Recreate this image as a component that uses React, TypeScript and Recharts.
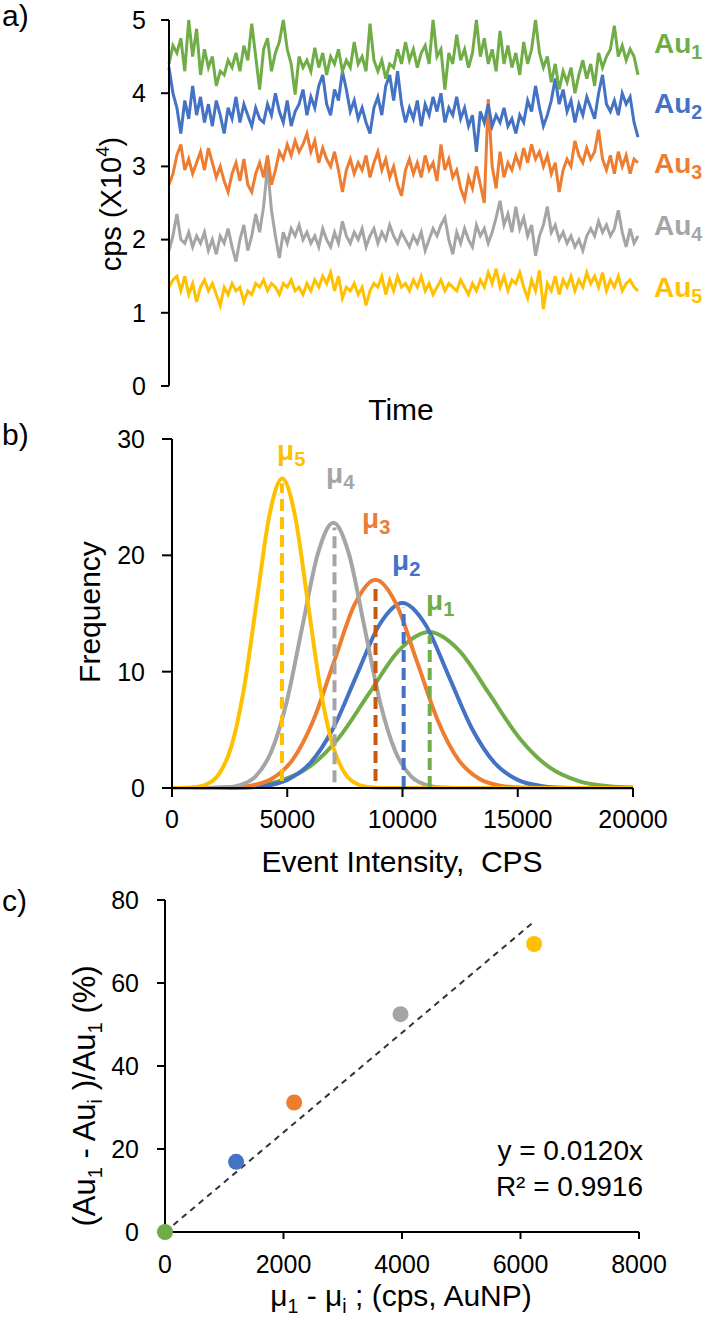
import React from "react";
import { LineChart, Line, XAxis, YAxis, ComposedChart, Scatter, Cell } from "recharts";

const FONT = "'Liberation Sans', Arial, Helvetica, sans-serif";
const COLORS = ["#70AD47", "#4472C4", "#ED7D31", "#A5A5A5", "#FFC000"];
const MEAN_COLORS = ["#70AD47", "#4472C4", "#C55A11", "#A5A5A5", "#FFC000"];

// a) signal traces, cps (x10^4), one value per time step
const au1Trace = [
  4.4, 4.65, 4.55, 4.75, 4.3, 5.0, 4.5, 4.88, 4.25, 4.6,
  4.35, 4.5, 4.1, 4.3, 4.25, 4.45, 4.35, 4.55, 4.3, 4.65,
  4.45, 4.95, 4.5, 4.05, 4.6, 4.75, 4.3, 4.55, 4.7, 5.0,
  4.6, 4.4, 3.98, 4.5, 4.35, 4.45, 4.3, 4.62, 4.35, 4.55,
  4.25, 4.5, 4.4, 4.6, 4.3, 4.45, 4.35, 4.7, 4.4, 4.5,
  4.3, 4.95, 4.45, 4.3, 4.45, 4.2, 4.4, 4.35, 4.6, 4.4,
  4.7, 4.45, 4.6, 4.35, 4.55, 4.65, 4.4, 5.0, 4.5, 4.6,
  4.05, 4.55, 4.4, 4.8, 4.45, 4.6, 4.35, 4.55, 5.0, 4.5,
  4.75, 4.4, 4.6, 4.3, 4.85, 4.4, 4.65, 4.35, 4.55, 4.25,
  4.7, 4.4, 4.6, 5.0, 4.55, 4.35, 4.5, 4.15, 4.4, 4.05,
  4.3, 4.15, 4.35, 4.0, 4.25, 4.45, 4.2, 4.4, 4.1, 4.55,
  4.35, 4.5, 4.6, 4.92, 4.5, 4.65, 4.45, 4.6, 4.5, 4.25,
];
const au2Trace = [
  4.35, 4.0, 3.8, 3.45, 3.9, 3.65, 4.1, 3.7, 3.95, 3.6,
  3.85, 3.55, 3.9, 3.7, 3.45, 3.8, 3.65, 3.95, 3.6, 3.85,
  3.7, 3.55, 3.8, 3.65, 3.6, 3.85, 3.7, 4.0, 3.75, 3.6,
  3.9, 3.55, 3.75, 3.85, 4.05, 3.7, 3.95, 3.8, 4.1, 4.25,
  3.85, 3.7, 4.05, 3.9, 4.3, 4.05, 3.75, 3.9, 3.65, 3.8,
  3.6, 3.45, 3.8, 3.95, 3.7, 4.1, 4.25, 3.9, 4.3, 3.85,
  3.6, 3.8, 3.65, 3.9, 3.55, 3.85, 3.7, 3.95, 3.75, 4.0,
  3.6, 3.8, 3.7, 3.95, 3.65, 3.8, 3.55, 3.7, 3.2, 3.75,
  3.6, 3.85, 3.55, 3.7, 3.6, 3.8, 3.55, 3.65, 3.45, 3.7,
  3.6, 3.9, 3.75, 4.1, 3.8, 3.55, 3.7, 3.9, 4.2, 3.85,
  4.05, 3.75, 3.9, 3.6, 3.85, 3.7, 3.95, 3.8, 3.65, 4.0,
  4.25, 3.85, 3.75, 3.9, 3.7, 4.0, 3.85, 3.95, 3.6, 3.4,
];
const au3Trace = [
  2.75, 2.9, 3.15, 3.3, 2.95, 3.1, 2.9, 3.05, 3.2, 2.95,
  3.25, 3.05, 2.85, 3.0, 2.8, 2.65, 2.9, 3.05, 2.8, 3.1,
  2.75, 2.65, 2.9, 3.05, 2.85, 3.15, 2.75, 2.95, 3.2, 3.1,
  3.3, 3.15, 3.35, 3.2, 3.3, 3.45, 3.2, 3.35, 3.05, 3.25,
  3.1, 3.0, 3.2, 2.95, 2.65, 2.95, 3.1, 2.9, 3.05, 2.95,
  3.15, 2.85, 3.05, 3.2, 2.95, 3.1, 2.85, 3.0, 2.75, 2.6,
  2.95, 3.1, 2.9, 3.05, 2.85, 3.15, 2.95, 3.05, 2.8, 3.3,
  2.95, 3.1, 2.85, 2.95, 2.7, 2.55, 2.85, 2.7, 3.0, 2.75,
  2.5, 3.92, 3.0, 2.7, 3.2, 2.85, 3.05, 2.95, 3.15, 3.0,
  3.25, 3.05, 3.3, 3.1, 3.2, 3.0, 3.15, 2.9, 3.05, 2.65,
  2.95, 3.1, 3.0, 3.35, 3.15, 3.05, 3.25, 3.1, 3.2, 3.5,
  3.1, 2.95, 3.15, 2.9, 3.2, 3.0, 3.15, 2.9, 3.1, 3.05,
];
const au4Trace = [
  1.85, 2.05, 2.35, 2.0, 1.95, 2.1, 1.9, 2.05, 1.95, 2.1,
  1.85, 2.0, 1.8, 2.05, 1.95, 2.15, 1.9, 1.7, 2.0, 2.2,
  1.85, 2.05, 2.35, 2.1, 2.45, 3.0, 2.4, 2.05, 1.75, 2.1,
  1.95, 2.15, 2.05, 2.2, 2.0, 2.1, 1.95, 2.05, 1.9, 2.15,
  2.0, 1.9, 2.1, 1.95, 2.25, 2.05, 1.95, 2.1, 2.0, 2.15,
  1.9, 2.05, 2.15, 1.95, 2.1, 2.0, 2.2, 2.05, 1.95, 2.1,
  2.0, 1.9, 2.05, 1.95, 2.1, 1.85, 2.0, 2.15, 2.05, 2.2,
  2.3, 2.0, 1.8, 2.1, 1.95, 2.15, 2.0, 1.9, 2.2, 2.05,
  2.15, 1.95, 2.1, 2.3, 2.53, 2.2, 2.35, 2.1, 2.45, 2.15,
  2.3, 2.05, 2.2, 1.78, 2.05, 2.2, 2.45, 2.1, 2.2, 2.0,
  2.1, 1.95, 2.05, 1.9, 2.0, 1.85, 2.05, 2.15, 2.05, 2.25,
  2.1, 2.2, 2.05, 2.15, 2.4, 2.1, 1.9, 2.15, 1.95, 2.05,
];
const au5Trace = [
  1.35, 1.45, 1.5, 1.3, 1.5, 1.25, 1.4, 1.15, 1.35, 1.45,
  1.3, 1.4, 1.25, 1.1, 1.35, 1.25, 1.4, 1.3, 1.35, 1.15,
  1.3, 1.25, 1.4, 1.35, 1.45, 1.3, 1.4, 1.35, 1.25, 1.4,
  1.35, 1.45, 1.3, 1.35, 1.25, 1.4, 1.3, 1.45, 1.35, 1.5,
  1.4, 1.55, 1.3, 1.5, 1.2, 1.35, 1.3, 1.4, 1.25, 1.35,
  1.1, 1.3, 1.4, 1.35, 1.5, 1.25, 1.45, 1.3, 1.5, 1.35,
  1.4, 1.3, 1.45, 1.35, 1.5, 1.3, 1.4, 1.25, 1.35, 1.45,
  1.3, 1.4, 1.35, 1.3, 1.45, 1.35, 1.25, 1.4, 1.3, 1.45,
  1.35, 1.55, 1.4, 1.6, 1.35, 1.5, 1.3, 1.45, 1.4, 1.55,
  1.35, 1.2, 1.45, 1.3, 1.58, 1.05, 1.4, 1.3, 1.5, 1.25,
  1.45, 1.35, 1.5, 1.3, 1.45, 1.35, 1.55, 1.4, 1.5, 1.35,
  1.55, 1.3, 1.45, 1.35, 1.5, 1.3, 1.4, 1.45, 1.35, 1.3,
];
const traceTicksY = [0, 1, 2, 3, 4, 5];
const traceLabels = ["1", "2", "3", "4", "5"];

// b) fitted event distributions, [intensity cps, frequency]
const au1Dist = [[0, 0], [750, 0], [2050, 0.03], [3350, 0.15], [4650, 0.59], [5950, 1.81], [7250, 4.35], [8550, 8.13], [9850, 11.83], [11150, 13.4], [12450, 11.83], [13750, 8.13], [15050, 4.35], [16350, 1.81], [17650, 0.59], [18950, 0.15], [20000, 0.04]];
const au2Dist = [[0, 0], [2000, 0.01], [3000, 0.03], [4000, 0.18], [5000, 0.7], [6000, 2.15], [7000, 5.16], [8000, 9.64], [9000, 14.03], [10000, 15.9], [11000, 14.03], [12000, 9.64], [13000, 5.16], [14000, 2.15], [15000, 0.7], [16000, 0.18], [17000, 0.03], [18000, 0.01], [20000, 0]];
const au3Dist = [[0, 0], [1630, 0.01], [2530, 0.04], [3430, 0.2], [4330, 0.79], [5230, 2.42], [6130, 5.81], [7030, 10.86], [7930, 15.8], [8830, 17.9], [9730, 15.8], [10630, 10.86], [11530, 5.81], [12430, 2.42], [13330, 0.79], [14230, 0.2], [15130, 0.04], [16030, 0.01], [20000, 0]];
const au4Dist = [[0, 0], [1600, 0.01], [2275, 0.05], [2950, 0.25], [3625, 1.0], [4300, 3.09], [4975, 7.4], [5650, 13.83], [6325, 20.12], [7000, 22.8], [7675, 20.12], [8350, 13.83], [9025, 7.4], [9700, 3.09], [10375, 1.0], [11050, 0.25], [11725, 0.05], [12400, 0.01], [20000, 0]];
const au5Dist = [[0, 0], [380, 0.01], [930, 0.06], [1480, 0.3], [2030, 1.17], [2580, 3.6], [3130, 8.64], [3680, 16.13], [4230, 23.47], [4780, 26.6], [5330, 23.47], [5880, 16.13], [6430, 8.64], [6980, 3.6], [7530, 1.17], [8080, 0.3], [8630, 0.06], [9180, 0.01], [20000, 0]];
const meanX = [11180, 10050, 8830, 7050, 4770];
const meanTop = [13.1, 15.5, 17.5, 22.4, 26.2];
const meanBottom = [0, 0, 0.6, 0.5, 0.6];
const distTicksX = [0, 5000, 10000, 15000, 20000];
const distTicksY = [0, 10, 20, 30];

// c) shift of the mean vs. drop in signal
const shiftX = [0, 1200, 2180, 3975, 6230];
const dropPct = [0, 16.9, 31.2, 52.5, 69.4];
const trendX = [0, 6230];
const trendY = [0, 74.8];
const shiftTicksX = [0, 2000, 4000, 6000, 8000];
const shiftTicksY = [0, 20, 40, 60, 80];

const traceData = au1Trace.map((v, i) => ({
  t: i,
  au1: v,
  au2: au2Trace[i],
  au3: au3Trace[i],
  au4: au4Trace[i],
  au5: au5Trace[i],
}));
const dists = [au1Dist, au2Dist, au3Dist, au4Dist, au5Dist].map(d => d.map(([x, y]) => ({ x, y })));
const meanLines = meanX.map((x, i) => [
  { x, y: meanBottom[i] },
  { x, y: meanTop[i] },
]);
const dots = shiftX.map((x, i) => ({ x, y: dropPct[i] }));
const trend = trendX.map((x, i) => ({ x, y: trendY[i] }));

const axisLine = { stroke: "#000", strokeWidth: 2 };
const tick = { fontSize: 25, fill: "#000", fontFamily: FONT };

type Part = { t: string; sub?: boolean; sup?: boolean };

function Rich({ parts, size, subScale = 0.65, ...rest }: { parts: Part[]; size: number; subScale?: number; [k: string]: any }) {
  let shift = 0;
  return (
    <text fontSize={size} fontFamily={FONT} style={{ whiteSpace: "pre" }} {...rest}>
      {parts.map((p, i) => {
        const target = p.sub ? size * 0.22 : p.sup ? -size * 0.4 : 0;
        const dy = target - shift;
        shift = target;
        return (
          <tspan key={i} dy={dy} fontSize={p.sub || p.sup ? size * subScale : size}>
            {p.t}
          </tspan>
        );
      })}
    </text>
  );
}

function TracePanel() {
  return (
    <LineChart width={708} height={400} data={traceData} margin={{ top: 20, right: 70, bottom: 14, left: 89 }}>
      <XAxis dataKey="t" type="number" domain={[0, 119]} tick={false} tickLine={false} axisLine={axisLine} height={0} />
      <YAxis domain={[0, 5]} ticks={traceTicksY} interval={0} width={80} tickSize={8} tickMargin={15} axisLine={axisLine} tickLine={axisLine} tick={tick} />
      {["au5", "au4", "au3", "au2", "au1"].map(k => (
        <Line key={k} dataKey={k} stroke={COLORS[Number(k[2]) - 1]} strokeWidth={3} dot={false} type="linear" isAnimationActive={false} />
      ))}
    </LineChart>
  );
}

function DistPanel() {
  return (
    <LineChart width={708} height={420} margin={{ top: 19, right: 75, bottom: 7, left: 92 }}>
      <XAxis dataKey="x" type="number" domain={[0, 20000]} ticks={distTicksX} interval={0} height={45} tickSize={9} tickMargin={13} axisLine={axisLine} tickLine={axisLine} tick={tick} allowDuplicatedCategory={false} />
      <YAxis domain={[0, 30]} ticks={distTicksY} interval={0} width={80} tickSize={10} tickMargin={17} axisLine={axisLine} tickLine={axisLine} tick={tick} />
      {dists.map((d, i) => (
        <Line key={"c" + i} data={d} dataKey="y" stroke={COLORS[i]} strokeWidth={4} dot={false} type="monotone" isAnimationActive={false} />
      ))}
      {meanLines.map((d, i) => (
        <Line key={"m" + i} data={d} dataKey="y" stroke={MEAN_COLORS[i]} strokeWidth={4} strokeDasharray="12 6" dot={false} type="linear" isAnimationActive={false} />
      ))}
    </LineChart>
  );
}

function ShiftPanel() {
  return (
    <ComposedChart width={708} height={440} margin={{ top: 20, right: 69, bottom: 38, left: 85 }}>
      <XAxis dataKey="x" type="number" domain={[0, 8000]} ticks={shiftTicksX} interval={0} height={50} tickSize={7} tickMargin={16} axisLine={axisLine} tickLine={axisLine} tick={tick} />
      <YAxis dataKey="y" type="number" domain={[0, 80]} ticks={shiftTicksY} interval={0} width={80} tickSize={8} tickMargin={18} axisLine={axisLine} tickLine={axisLine} tick={tick} />
      <Line data={trend} dataKey="y" stroke="#333" strokeWidth={2} strokeDasharray="6 5" dot={false} type="linear" isAnimationActive={false} />
      <Scatter
        data={dots}
        dataKey="y"
        isAnimationActive={false}
        shape={(p: any) => <circle cx={p.cx} cy={p.cy} r={8} fill={p.fill} />}
      >
        {dots.map((_, i) => (
          <Cell key={i} fill={COLORS[i]} />
        ))}
      </Scatter>
    </ComposedChart>
  );
}

function Labels() {
  const auY = [53, 113, 173, 235, 297];
  const mu = [
    { x: 426, y: 610 },
    { x: 392, y: 570 },
    { x: 362, y: 528 },
    { x: 326, y: 483 },
    { x: 277, y: 460 },
  ];
  return (
    <svg width={708} height={1320} style={{ position: "absolute", left: 0, top: 0, pointerEvents: "none" }}>
      <text x={2} y={26} fontSize={30} fontFamily={FONT}>a)</text>
      <text x={2} y={445} fontSize={30} fontFamily={FONT}>b)</text>
      <text x={2} y={911} fontSize={30} fontFamily={FONT}>c)</text>

      <Rich transform="translate(121,204) rotate(-90)" textAnchor="middle" size={29} parts={[{ t: "cps (X10" }, { t: "4", sup: true }, { t: ")" }]} />
      <text x={401} y={420} fontSize={30} fontFamily={FONT} textAnchor="middle">Time</text>
      {traceLabels.map((n, i) => (
        <Rich key={n} x={654} y={auY[i]} size={28} subScale={0.7} fill={COLORS[i]} fontWeight="bold" parts={[{ t: "Au" }, { t: n, sub: true }]} />
      ))}

      <text transform="translate(100,612) rotate(-90)" textAnchor="middle" fontSize={30} fontFamily={FONT}>Frequency</text>
      <text x={402} y={872} fontSize={30} fontFamily={FONT} textAnchor="middle" style={{ whiteSpace: "pre" }}>Event Intensity,  CPS</text>
      {mu.map((m, i) => (
        <Rich key={i} x={m.x} y={m.y} size={28} subScale={0.72} fill={COLORS[i]} fontWeight="bold" parts={[{ t: "μ" }, { t: String(i + 1), sub: true }]} />
      ))}

      <Rich transform="translate(95,1096) rotate(-90)" textAnchor="middle" size={31} parts={[{ t: "(Au" }, { t: "1", sub: true }, { t: " - Au" }, { t: "i", sub: true }, { t: " )/Au" }, { t: "1", sub: true }, { t: " (%)" }]} />
      <Rich x={401} y={1306} textAnchor="middle" size={30} parts={[{ t: "μ" }, { t: "1", sub: true }, { t: " - μ" }, { t: "i", sub: true }, { t: " ; (cps, AuNP)" }]} />
      <text x={643} y={1160} fontSize={28} fontFamily={FONT} textAnchor="end">y = 0.0120x</text>
      <text x={643} y={1196} fontSize={28} fontFamily={FONT} textAnchor="end">R² = 0.9916</text>
    </svg>
  );
}

export default function App() {
  return (
    <div style={{ position: "absolute", left: 0, top: 0, width: 708, height: 1320, background: "#fff", fontFamily: FONT }}>
      <div style={{ position: "absolute", left: 0, top: 0 }}>
        <TracePanel />
      </div>
      <div style={{ position: "absolute", left: 0, top: 420 }}>
        <DistPanel />
      </div>
      <div style={{ position: "absolute", left: 0, top: 880 }}>
        <ShiftPanel />
      </div>
      <Labels />
    </div>
  );
}
